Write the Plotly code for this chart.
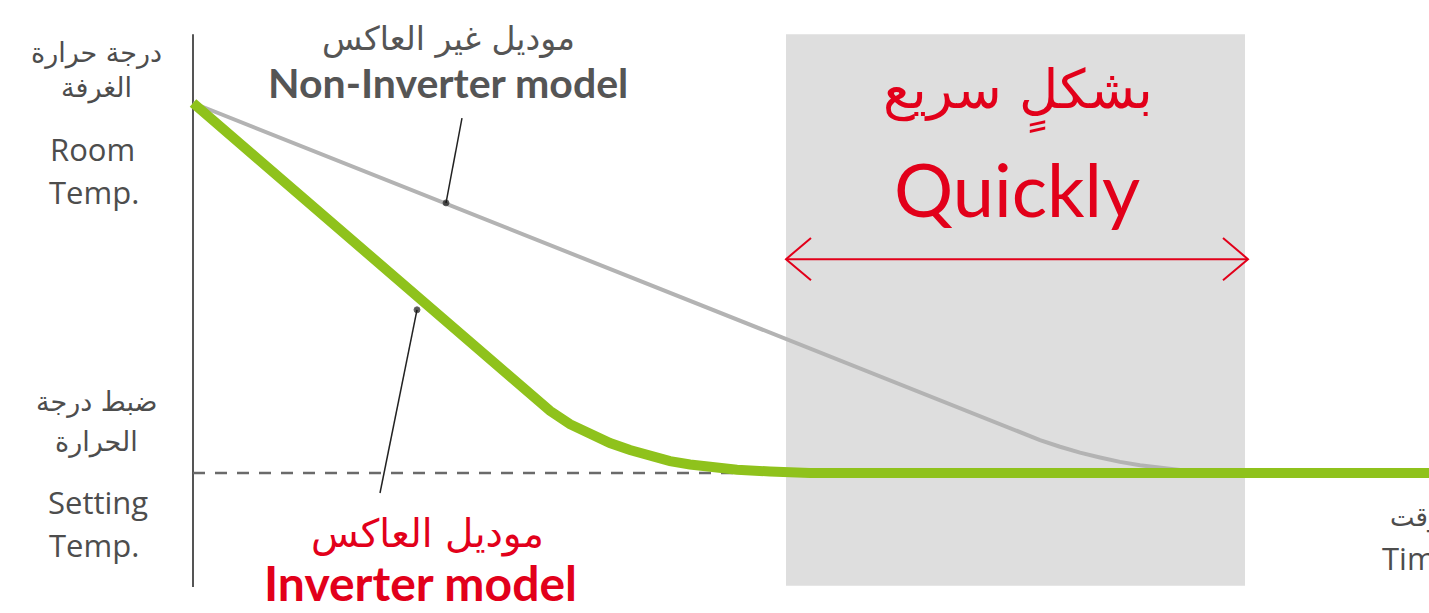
"""
Room temperature drop: inverter vs non-inverter air conditioner
"""

import plotly.graph_objects as go

# time runs right from the vertical axis, temperature is 0 at the set point
# and 100 at the starting room temperature
inverter_time = [0, 31.7, 33.7, 35.7, 37.7, 39.7, 41.7, 43.7, 45.7, 47.7,
                 49.7, 51.7, 54.4, 57.7, 61.7, 125.0]
inverter_temp = [100, 25.5, 20.8, 16.8, 13.2, 10.4, 8.1, 6.2, 4.6, 3.2,
                 2.3, 1.6, 0.9, 0.4, 0, 0]

non_inverter_time = [0, 80.7, 82.7, 84.7, 86.7, 88.7, 90.7, 92.7, 94.7,
                     96.7, 98.7, 100.7, 103.2]
non_inverter_temp = [100, 13.0, 10.9, 8.9, 7.1, 5.5, 4.2, 3.0, 2.1,
                     1.4, 0.8, 0.3, 0]

setting_line_time = [0, 54]
setting_temp = 0

axis_temp_range = [-30.8, 118.6]

quick_start, quick_end = 59.3, 105.2
quick_arrow_end = 105.5
quick_arrow_temp = 57.8

# leader lines: [label end, point on curve]
non_inverter_leader_time = [26.9, 25.3]
non_inverter_leader_temp = [95.9, 73.0]
inverter_leader_time = [18.7, 22.4]
inverter_leader_temp = [-5.4, 44.1]

GREEN = '#8fc21c'
LINE_GRAY = '#b3b3b3'
BOX_GRAY = '#dedede'
RED = '#e2001a'
TEXT_GRAY = '#4d4d4d'
LATIN = '"Open Sans", sans-serif'
NARROW = 'Lato, "Open Sans", sans-serif'
ARABIC = '"DejaVu Sans", "Noto Sans", sans-serif'

fig = go.Figure()

# shaded "quickly" region
fig.add_shape(
    type='rect', xref='x', yref='y',
    x0=quick_start, x1=quick_end,
    y0=axis_temp_range[0] + 0.3, y1=axis_temp_range[1],
    fillcolor=BOX_GRAY, line_width=0, layer='below'
)

# vertical axis
fig.add_trace(go.Scatter(
    x=[0, 0], y=axis_temp_range, mode='lines',
    line=dict(color='#555555', width=2), hoverinfo='skip'
))

# setting temperature reference
fig.add_trace(go.Scatter(
    x=setting_line_time, y=[setting_temp, setting_temp], mode='lines',
    line=dict(color='#6a6a6a', width=2.5, dash='12px,10px'), hoverinfo='skip'
))

fig.add_trace(go.Scatter(
    x=non_inverter_time, y=non_inverter_temp, mode='lines',
    name='Non-Inverter model',
    line=dict(color=LINE_GRAY, width=4)
))

fig.add_trace(go.Scatter(
    x=inverter_time, y=inverter_temp, mode='lines',
    name='Inverter model',
    line=dict(color=GREEN, width=10)
))

# leader lines with a dot on the curve
for lx, ly in [(non_inverter_leader_time, non_inverter_leader_temp),
               (inverter_leader_time, inverter_leader_temp)]:
    fig.add_trace(go.Scatter(
        x=lx, y=ly, mode='lines+markers',
        line=dict(color='#222222', width=1.5),
        marker=dict(size=[0, 6], color='#111111'),
        hoverinfo='skip'
    ))

# double headed red arrow with open heads
head_dx, head_dy = 2.5, 5.7
fig.add_trace(go.Scatter(
    x=[quick_start, quick_arrow_end], y=[quick_arrow_temp] * 2, mode='lines',
    line=dict(color=RED, width=2), hoverinfo='skip'
))
for tip, sign in [(quick_start, 1), (quick_arrow_end, -1)]:
    fig.add_trace(go.Scatter(
        x=[tip + sign * head_dx, tip, tip + sign * head_dx],
        y=[quick_arrow_temp + head_dy, quick_arrow_temp, quick_arrow_temp - head_dy],
        mode='lines', line=dict(color=RED, width=2), hoverinfo='skip'
    ))


def label(text, x, y, size, color, family, anchor='center', bold=False):
    fig.add_annotation(
        x=x, y=y, xref='x', yref='y', text=text, showarrow=False,
        xanchor=anchor, yanchor='middle',
        font=dict(size=size, color=color, family=family,
                  weight='bold' if bold else 'normal')
    )


# y axis labels
label('درجة حرارة', -9.7, 113.5, 27, TEXT_GRAY, ARABIC)
label('الغرفة', -9.7, 104, 27, TEXT_GRAY, ARABIC)
label('Room', -10.1, 87.5, 31, TEXT_GRAY, LATIN)
label('Temp.', -9.9, 76.0, 31, TEXT_GRAY, LATIN)
label('ضبط درجة', -9.6, 19.2, 27, TEXT_GRAY, ARABIC)
label('الحرارة', -9.7, 8.4, 27, TEXT_GRAY, ARABIC)
label('Setting', -9.5, -7.8, 31, TEXT_GRAY, LATIN)
label('Temp.', -9.9, -19.5, 31, TEXT_GRAY, LATIN)

# x axis label, cut by the right edge like the original
label('الوقت', 119.5, -11.9, 26, TEXT_GRAY, ARABIC, anchor='left')
label('Time', 118.7, -23.0, 31, TEXT_GRAY, LATIN, anchor='left')

# series labels
label('موديل غير العاكس', 25.5, 117.5, 33, '#555555', ARABIC)
label('Non-Inverter model', 25.5, 105.5, 41, '#555555', NARROW, bold=True)
label('موديل العاكس', 23.4, -16.5, 39, RED, ARABIC)
label('Inverter model', 22.7, -29.5, 48, RED, NARROW, bold=True)

# highlighted region title
label('بشكلٍ سريع', 82.5, 102.0, 54, RED, ARABIC)
label('Quickly', 82.4, 77.0, 74, RED, NARROW)

fig.update_xaxes(range=[-19.3, 123.6], visible=False)
fig.update_yaxes(range=[-37.84, 127.84], visible=False)

fig.update_layout(
    width=1429, height=613,
    margin=dict(l=0, r=0, t=0, b=0),
    paper_bgcolor='white', plot_bgcolor='white',
    showlegend=False, hovermode=False
)

# drop the browser's default body margin so the figure sits at the corner
fig.write_html(
    "out.html",
    config={'displayModeBar': False},
    post_script="document.body.style.margin = '0';"
)
